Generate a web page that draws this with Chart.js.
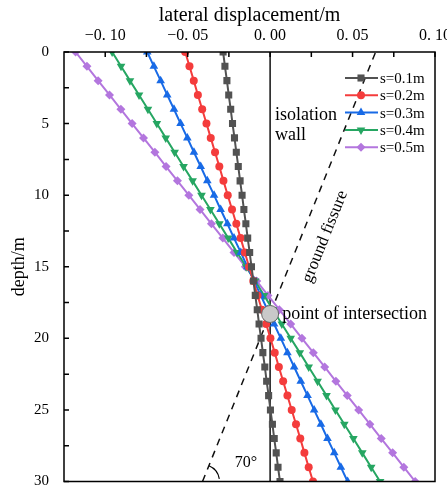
<!DOCTYPE html>
<html>
<head>
<meta charset="utf-8">
<script src="https://cdn.jsdelivr.net/npm/chart.js@4/dist/chart.umd.min.js"></script>
<style>
  html, body { margin: 0; padding: 0; background: #fff; }
  #wrap { width: 447px; height: 491px; }
</style>
</head>
<body>
<div id="wrap"><canvas id="pileChart"></canvas></div>
<script>
// profundidade (m) e deslocamento lateral (m)
const depths = [0,1,2,3,4,5,6,7,8,9,10,11,12,13,14,15,16,17,18,19,20,21,22,23,24,25,26,27,28,29,30];
const s01 = [-0.0285,-0.0274,-0.0262,-0.0251,-0.0239,-0.0228,-0.0216,-0.0205,-0.0193,-0.0182,-0.0170,-0.0159,-0.0147,-0.0136,-0.0124,-0.0113,-0.0101,-0.0090,-0.0078,-0.0067,-0.0055,-0.0044,-0.0032,-0.0021,-0.0009,0.0002,0.0014,0.0025,0.0037,0.0048,0.0060];
const s02 = [-0.0515,-0.0489,-0.0463,-0.0438,-0.0412,-0.0386,-0.0360,-0.0334,-0.0308,-0.0283,-0.0257,-0.0231,-0.0205,-0.0179,-0.0153,-0.0128,-0.0102,-0.0076,-0.0050,-0.0024,0.0002,0.0028,0.0053,0.0079,0.0105,0.0131,0.0157,0.0183,0.0208,0.0234,0.0260];
const s03 = [-0.0745,-0.0705,-0.0664,-0.0624,-0.0583,-0.0543,-0.0502,-0.0462,-0.0421,-0.0381,-0.0340,-0.0300,-0.0259,-0.0219,-0.0178,-0.0138,-0.0097,-0.0057,-0.0016,0.0024,0.0065,0.0105,0.0146,0.0186,0.0227,0.0267,0.0308,0.0348,0.0389,0.0429,0.0470];
const s04 = [-0.0958,-0.0904,-0.0850,-0.0795,-0.0741,-0.0687,-0.0633,-0.0579,-0.0525,-0.0470,-0.0416,-0.0362,-0.0308,-0.0254,-0.0200,-0.0145,-0.0091,-0.0037,0.0017,0.0071,0.0125,0.0180,0.0234,0.0288,0.0342,0.0396,0.0450,0.0505,0.0559,0.0613,0.0667];
const s05 = [-0.1180,-0.1111,-0.1043,-0.0974,-0.0905,-0.0837,-0.0768,-0.0699,-0.0631,-0.0562,-0.0493,-0.0425,-0.0356,-0.0287,-0.0219,-0.0150,-0.0081,-0.0013,0.0056,0.0125,0.0193,0.0262,0.0331,0.0399,0.0468,0.0537,0.0605,0.0674,0.0743,0.0811,0.0880];
const seriesNames = ['s=0.1m', 's=0.2m', 's=0.3m', 's=0.4m', 's=0.5m'];

// fissura do solo (70°), parede de isolamento e ponto de interseção
const fissureX = [-0.041, 0.064];
const fissureDepth = [30, 0];
const wallX = [0, 0];
const wallDepth = [0, 30];
const intersectX = 0;
const intersectDepth = 18.3;

const xTicks = [-0.10, -0.05, 0.00, 0.05, 0.10];
const yTicks = [0, 5, 10, 15, 20, 25, 30];

const serif = '"Liberation Serif", "Times New Roman", serif';
const colors = ['#525252', '#f43c3c', '#186ae6', '#26a662', '#b376de'];
const styles = ['rect', 'circle', 'triangle', 'triangle', 'rectRot'];
const rotations = [0, 0, 0, 180, 0];
const radii = [5, 4, 5, 5, 4.5];

function toPoints(xs, ys) {
    return xs.map(function(v, i) { return { x: v, y: ys[i] }; });
}

const seriesData = [s01, s02, s03, s04, s05];
const datasets = seriesData.map(function(vals, i) {
    return {
        label: seriesNames[i],
        data: toPoints(vals, depths),
        borderColor: colors[i],
        backgroundColor: colors[i],
        borderWidth: 2,
        pointStyle: styles[i],
        pointRotation: rotations[i],
        pointRadius: radii[i],
        pointBorderWidth: 0,
        pointBackgroundColor: colors[i],
        tension: 0,
        clip: 0,
        order: 2
    };
});

datasets.push({
    label: 'wall',
    data: toPoints(wallX, wallDepth),
    borderColor: '#111',
    borderWidth: 1.5,
    pointRadius: 0,
    clip: 0,
    order: 3
});
datasets.push({
    label: 'fissure',
    data: toPoints(fissureX, fissureDepth),
    borderColor: '#111',
    borderWidth: 1.5,
    borderDash: [7, 6],
    pointRadius: 0,
    clip: 0,
    order: 3
});
datasets.push({
    label: 'intersection',
    data: [{ x: intersectX, y: intersectDepth }],
    showLine: false,
    pointRadius: 8.5,
    pointBackgroundColor: '#c9c9c9',
    pointBorderColor: '#666',
    pointBorderWidth: 1,
    order: 0
});

// moldura, ticks internos, legenda e anotações
const decorPlugin = {
    id: 'decor',
    afterDatasetsDraw: function(chart) {
        const ctx = chart.ctx;
        const area = chart.chartArea;
        const xs = chart.scales.x;
        const ys = chart.scales.y;
        ctx.save();

        // ticks para dentro
        ctx.strokeStyle = '#000';
        ctx.lineWidth = 1.5;
        ctx.beginPath();
        for (let v = -0.1; v <= 0.1001; v += 0.025) {
            const px = xs.getPixelForValue(v);
            ctx.moveTo(px, area.top);
            ctx.lineTo(px, area.top + 5);
        }
        for (let d = 0; d <= 30; d += 2.5) {
            const py = ys.getPixelForValue(d);
            ctx.moveTo(area.left, py);
            ctx.lineTo(area.left + 5, py);
        }
        ctx.stroke();

        // moldura
        ctx.lineWidth = 1.5;
        ctx.strokeRect(area.left, area.top, area.right - area.left, area.bottom - area.top);

        // legenda
        ctx.font = '15px ' + serif;
        ctx.textBaseline = 'middle';
        ctx.textAlign = 'left';
        for (let i = 0; i < seriesNames.length; i++) {
            const y = area.top + 26 + i * 17.3;
            ctx.strokeStyle = colors[i];
            ctx.lineWidth = 2;
            ctx.beginPath();
            ctx.moveTo(area.right - 90, y);
            ctx.lineTo(area.right - 57, y);
            ctx.stroke();
            ctx.fillStyle = colors[i];
            Chart.helpers.drawPoint(ctx, {
                pointStyle: styles[i], rotation: rotations[i], radius: radii[i], borderWidth: 0
            }, area.right - 74, y);
            ctx.fillStyle = '#000';
            ctx.fillText(seriesNames[i], area.right - 55, y + 1);
        }

        // textos
        ctx.fillStyle = '#000';
        ctx.font = '18px ' + serif;
        ctx.fillText('isolation', xs.getPixelForValue(0.003), ys.getPixelForValue(4.45));
        ctx.fillText('wall', xs.getPixelForValue(0.003), ys.getPixelForValue(5.8));
        ctx.fillText('point of intersection', xs.getPixelForValue(0.0073), ys.getPixelForValue(18.3));
        ctx.font = '16px ' + serif;
        ctx.fillText('70°', xs.getPixelForValue(-0.0215), ys.getPixelForValue(28.7));

        // texto ao longo da fissura
        const fx0 = xs.getPixelForValue(fissureX[0]);
        const fy0 = ys.getPixelForValue(fissureDepth[0]);
        const fx1 = xs.getPixelForValue(fissureX[1]);
        const fy1 = ys.getPixelForValue(fissureDepth[1]);
        const ang = Math.atan2(fy1 - fy0, fx1 - fx0);
        ctx.save();
        ctx.font = '17px ' + serif;
        ctx.translate(xs.getPixelForValue(0.0333), ys.getPixelForValue(12.9));
        ctx.rotate(ang);
        ctx.textAlign = 'center';
        ctx.fillText('ground fissure', 0, 0);
        ctx.restore();

        // arco do ângulo de 70°
        ctx.strokeStyle = '#000';
        ctx.lineWidth = 1.2;
        ctx.beginPath();
        ctx.arc(fx0, fy0, 17, ang, -0.15);
        ctx.stroke();

        ctx.restore();
    }
};

const ctx = document.getElementById('pileChart');

new Chart(ctx, {
    type: 'line',
    data: { datasets: datasets },
    options: {
        responsive: true,
        maintainAspectRatio: false,
        animation: false,
        layout: { padding: { top: 0, right: 12, bottom: 8, left: 0 } },
        plugins: {
            legend: { display: false },
            tooltip: { enabled: false }
        },
        scales: {
            x: {
                type: 'linear',
                position: 'top',
                min: -0.125,
                max: 0.10,
                afterBuildTicks: function(s) {
                    s.ticks = xTicks.map(function(v) { return { value: v }; });
                },
                afterFit: function(s) {
                    s.height = 52;
                    s.paddingLeft = 0;
                    s.paddingRight = 0;
                },
                ticks: {
                    color: '#000',
                    padding: 7,
                    maxRotation: 0,
                    font: { family: serif, size: 16 },
                    callback: function(v) {
                        return (v < -1e-9 ? '\u2212' : '') + Math.abs(v).toFixed(2).replace('.', '. ');
                    }
                },
                grid: { display: false, drawTicks: false },
                border: { display: false },
                title: {
                    display: true,
                    text: 'lateral displacement/m',
                    color: '#000',
                    font: { family: serif, size: 20 },
                    padding: { top: 4, bottom: 0 }
                }
            },
            y: {
                type: 'linear',
                reverse: true,
                min: 0,
                max: 30,
                afterBuildTicks: function(s) {
                    s.ticks = yTicks.map(function(v) { return { value: v }; });
                },
                afterFit: function(s) {
                    s.width = 64;
                    s.paddingTop = 0;
                    s.paddingBottom = 0;
                },
                ticks: {
                    color: '#000',
                    padding: 15,
                    font: { family: serif, size: 15 }
                },
                grid: { display: false, drawTicks: false },
                border: { display: false },
                title: {
                    display: true,
                    text: 'depth/m',
                    color: '#000',
                    font: { family: serif, size: 18 },
                    padding: { top: 8, bottom: 2 }
                }
            }
        }
    },
    plugins: [decorPlugin]
});
</script>
</body>
</html>
